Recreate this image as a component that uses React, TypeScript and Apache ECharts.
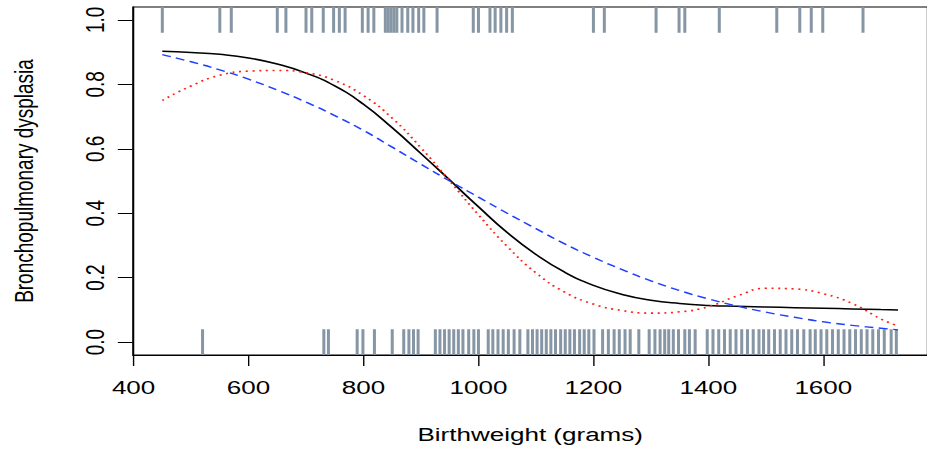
import React, { useEffect, useRef } from "react";
import * as echarts from "echarts";

// Tick labels
const X_TICKS = [400, 600, 800, 1000, 1200, 1400, 1600];
const Y_TICKS = [0, 0.2, 0.4, 0.6, 0.8, 1.0];

// Curve abscissae (grams)
const CURVE_X = [450, 500, 550, 600, 650, 700, 750, 800, 850, 900, 950, 1000, 1050, 1100, 1150, 1200, 1250, 1300, 1350, 1400, 1450, 1500, 1550, 1600, 1650, 1700, 1730];
// Black solid fit
const BLACK_Y = [0.903, 0.899, 0.893, 0.882, 0.863, 0.835, 0.795, 0.738, 0.665, 0.585, 0.503, 0.42, 0.34, 0.272, 0.217, 0.176, 0.148, 0.13, 0.12, 0.114, 0.111, 0.109, 0.107, 0.105, 0.103, 0.101, 0.1];
// Blue dashed fit
const BLUE_Y = [0.892, 0.87, 0.845, 0.816, 0.782, 0.745, 0.703, 0.657, 0.605, 0.552, 0.5, 0.45, 0.4, 0.352, 0.305, 0.263, 0.225, 0.19, 0.16, 0.134, 0.112, 0.093, 0.077, 0.063, 0.052, 0.043, 0.038];
// Red dotted fit
const RED_Y = [0.75, 0.795, 0.828, 0.841, 0.843, 0.836, 0.812, 0.765, 0.695, 0.603, 0.5, 0.395, 0.297, 0.215, 0.155, 0.118, 0.098, 0.09, 0.094, 0.11, 0.143, 0.167, 0.165, 0.15, 0.12, 0.072, 0.05];

// Rug: birthweights with BPD = 1 (top) and BPD = 0 (bottom)
const RUG_BPD = [450, 550, 570, 650, 665, 700, 710, 730, 748, 758, 768, 798, 808, 818, 838, 843, 848, 853, 858, 867, 877, 886, 896, 905, 928, 991, 1000, 1020, 1029, 1039, 1049, 1059, 1200, 1219, 1309, 1349, 1359, 1419, 1519, 1559, 1579, 1599, 1669];
const RUG_NO_BPD = [520, 731, 739, 789, 799, 819, 850, 870, 879, 887, 895,
  925, 933, 941, 949, 957, 965, 973, 983, 992, 1000,
  1017, 1025, 1034, 1043, 1052, 1062, 1072,
  1086, 1094, 1102, 1110, 1118, 1126, 1134, 1143, 1151, 1159, 1167, 1176, 1184, 1192, 1201,
  1216, 1226, 1236, 1245, 1255, 1264, 1279,
  1297, 1307, 1316, 1324, 1331, 1339, 1348, 1359, 1367, 1377,
  1398, 1408, 1418, 1428, 1438, 1448, 1458, 1468, 1478, 1488, 1496, 1505, 1515, 1525, 1535, 1545, 1555, 1566, 1577,
  1586, 1596, 1606, 1616, 1626, 1636, 1646, 1656, 1666, 1676, 1686, 1696, 1706,
  1718, 1727];

const STRETCH = 1.37;
const FONT = '"Liberation Sans", Arial, Helvetica, sans-serif';
const RUG_COLOR = "#8796a5";

export default function App() {
  const ref = useRef<HTMLDivElement>(null);
  useEffect(() => {
    if (!ref.current) return;
    const chart = echarts.init(ref.current, undefined, { renderer: "svg" });
    const rugData = [
      ...RUG_BPD.map((x) => [x, 1]),
      ...RUG_NO_BPD.map((x) => [x, 0]),
    ];
    const pairs = (ys: number[]) => CURVE_X.map((x, i) => [x, ys[i]]);
    chart.setOption({
      animation: false,
      textStyle: { fontFamily: FONT, color: "#000" },
      grid: {
        left: 96.35,
        top: 7,
        width: 584.74,
        height: 351,
        show: true,
        borderColor: "#000",
        borderWidth: 1,
        backgroundColor: "transparent",
      },
      xAxis: {
        type: "value",
        min: 398.8,
        max: 1781.2,
        axisLine: { show: true, onZero: false, lineStyle: { color: "#000", width: 1 } },
        axisTick: { show: true, customValues: X_TICKS, length: 11, lineStyle: { color: "#000", width: 1 } },
        axisLabel: {
          show: true,
          customValues: X_TICKS,
          fontSize: 19,
          color: "#000",
          margin: 23,
          fontFamily: FONT,
          formatter: (v: number) => String(v),
        },
        splitLine: { show: false },
        name: "Birthweight (grams)",
        nameLocation: "middle",
        nameGap: 70,
        nameTextStyle: { fontSize: 19, color: "#000", fontFamily: FONT },
      },
      yAxis: {
        type: "value",
        min: -0.04,
        max: 1.04,
        axisLine: { show: true, onZero: false, lineStyle: { color: "#000", width: 1 } },
        axisTick: { show: true, customValues: Y_TICKS, length: 11, lineStyle: { color: "#000", width: 1 } },
        axisLabel: {
          show: true,
          customValues: Y_TICKS,
          rotate: 90,
          fontSize: 19,
          color: "#000",
          margin: 18,
          fontFamily: FONT,
          formatter: (v: number) => v.toFixed(1),
        },
        splitLine: { show: false },
        name: "Bronchopulmonary dysplasia",
        nameLocation: "middle",
        nameGap: 70,
        nameRotate: 90,
        nameTextStyle: { fontSize: 19, color: "#000", fontFamily: FONT },
      },
      series: [
        {
          type: "custom",
          name: "rug",
          data: rugData,
          renderItem: (params: any, api: any) => {
            const x = api.value(0);
            const y = api.value(1);
            const p1 = api.coord([x, y - 0.04]);
            const p2 = api.coord([x, y + 0.04]);
            return {
              type: "line",
              shape: { x1: p1[0], y1: p1[1], x2: p2[0], y2: p2[1] },
              style: { stroke: RUG_COLOR, lineWidth: 2.2 },
            };
          },
        },
        {
          type: "line",
          name: "black",
          data: pairs(BLACK_Y),
          showSymbol: false,
          symbol: "none",
          smooth: 0.5,
          lineStyle: { color: "#000", width: 1.5 },
        },
        {
          type: "line",
          name: "blue",
          data: pairs(BLUE_Y),
          showSymbol: false,
          symbol: "none",
          smooth: 0.5,
          lineStyle: { color: "#2040ff", width: 1.4, type: [6.5, 4] },
        },
        {
          type: "line",
          name: "red",
          data: pairs(RED_Y),
          showSymbol: false,
          symbol: "none",
          smooth: 0.5,
          lineStyle: { color: "#ff2010", width: 1.6, type: [1.5, 3.4] },
        },
      ],
    });
    return () => chart.dispose();
  }, []);
  return (
    <div
      ref={ref}
      style={{
        position: "fixed",
        left: 0,
        top: 0,
        width: 677,
        height: 449,
        transform: `scaleX(${STRETCH})`,
        transformOrigin: "0 0",
        background: "#fff",
      }}
    />
  );
}
